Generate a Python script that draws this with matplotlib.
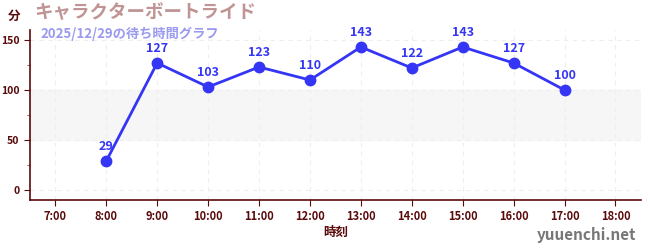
import numpy as np
import matplotlib
matplotlib.use("Agg")
from matplotlib import pyplot as plt
from matplotlib.ticker import MultipleLocator

plt.rcParams['font.family'] = ['Noto Sans CJK JP', 'DejaVu Sans']

# データ
hours = [8, 9, 10, 11, 12, 13, 14, 15, 16, 17]
waits = [29, 127, 103, 123, 110, 143, 122, 143, 127, 100]
tick_hours = list(range(7, 19))
tick_labels = ["{}:00".format(h) for h in tick_hours]

title = "キャラクターボートライド"
subtitle = "2025/12/29の待ち時間グラフ"

axis_col = "#5a0a0a"
line_col = "#3535f5"

fig = plt.figure(figsize=(6.5, 2.5), dpi=100)
ax = fig.add_axes([0.046, 0.2, 0.94, 0.68])

# 背景の帯とグリッド
ax.axhspan(50, 100, color="#f6f6f6", zorder=0)
ax.grid(True, linestyle=(0, (4, 4)), color="#eeeeee", linewidth=0.8)

ax.plot(hours, waits, color=line_col, linewidth=2.0, marker="o", markersize=7.5, zorder=3)
for h, w in zip(hours, waits):
    ax.annotate(str(w), (h, w), xytext=(0, 6), textcoords="offset points",
                ha="center", va="bottom", color=line_col, fontsize=9, fontweight="bold")

ax.set_xlim(6.5, 18.5)
ax.set_ylim(-10, 160)
ax.set_xticks(tick_hours)
ax.set_xticklabels(tick_labels)
ax.set_yticks([0, 50, 100, 150])
ax.yaxis.set_minor_locator(MultipleLocator(25))
ax.tick_params(axis="both", colors=axis_col, labelsize=7.5, length=4)
ax.tick_params(axis="y", which="minor", length=2, color="#cc2222")
ax.tick_params(axis="x", labelsize=8)
for lab in ax.get_xticklabels() + ax.get_yticklabels():
    lab.set_fontweight("bold")

for s in ["top", "right"]:
    ax.spines[s].set_visible(False)
for s in ["left", "bottom"]:
    ax.spines[s].set_color(axis_col)
    ax.spines[s].set_linewidth(1.2)

ax.set_xlabel("時刻", color=axis_col, fontsize=9, fontweight="bold", labelpad=2)

fig.text(0.012, 0.935, "分", color=axis_col, fontsize=9, fontweight="bold", va="center")
fig.text(0.053, 0.948, title, color="#c09494", fontsize=13.3, fontweight="bold", va="center")
fig.text(0.063, 0.865, subtitle, color="#9a9af0", fontsize=9.5, fontweight="bold", va="center")
fig.text(0.978, 0.06, "yuuenchi.net", color="#777777", fontsize=11, fontweight="bold", ha="right", va="center")

fig.savefig("out.png", dpi=100)
